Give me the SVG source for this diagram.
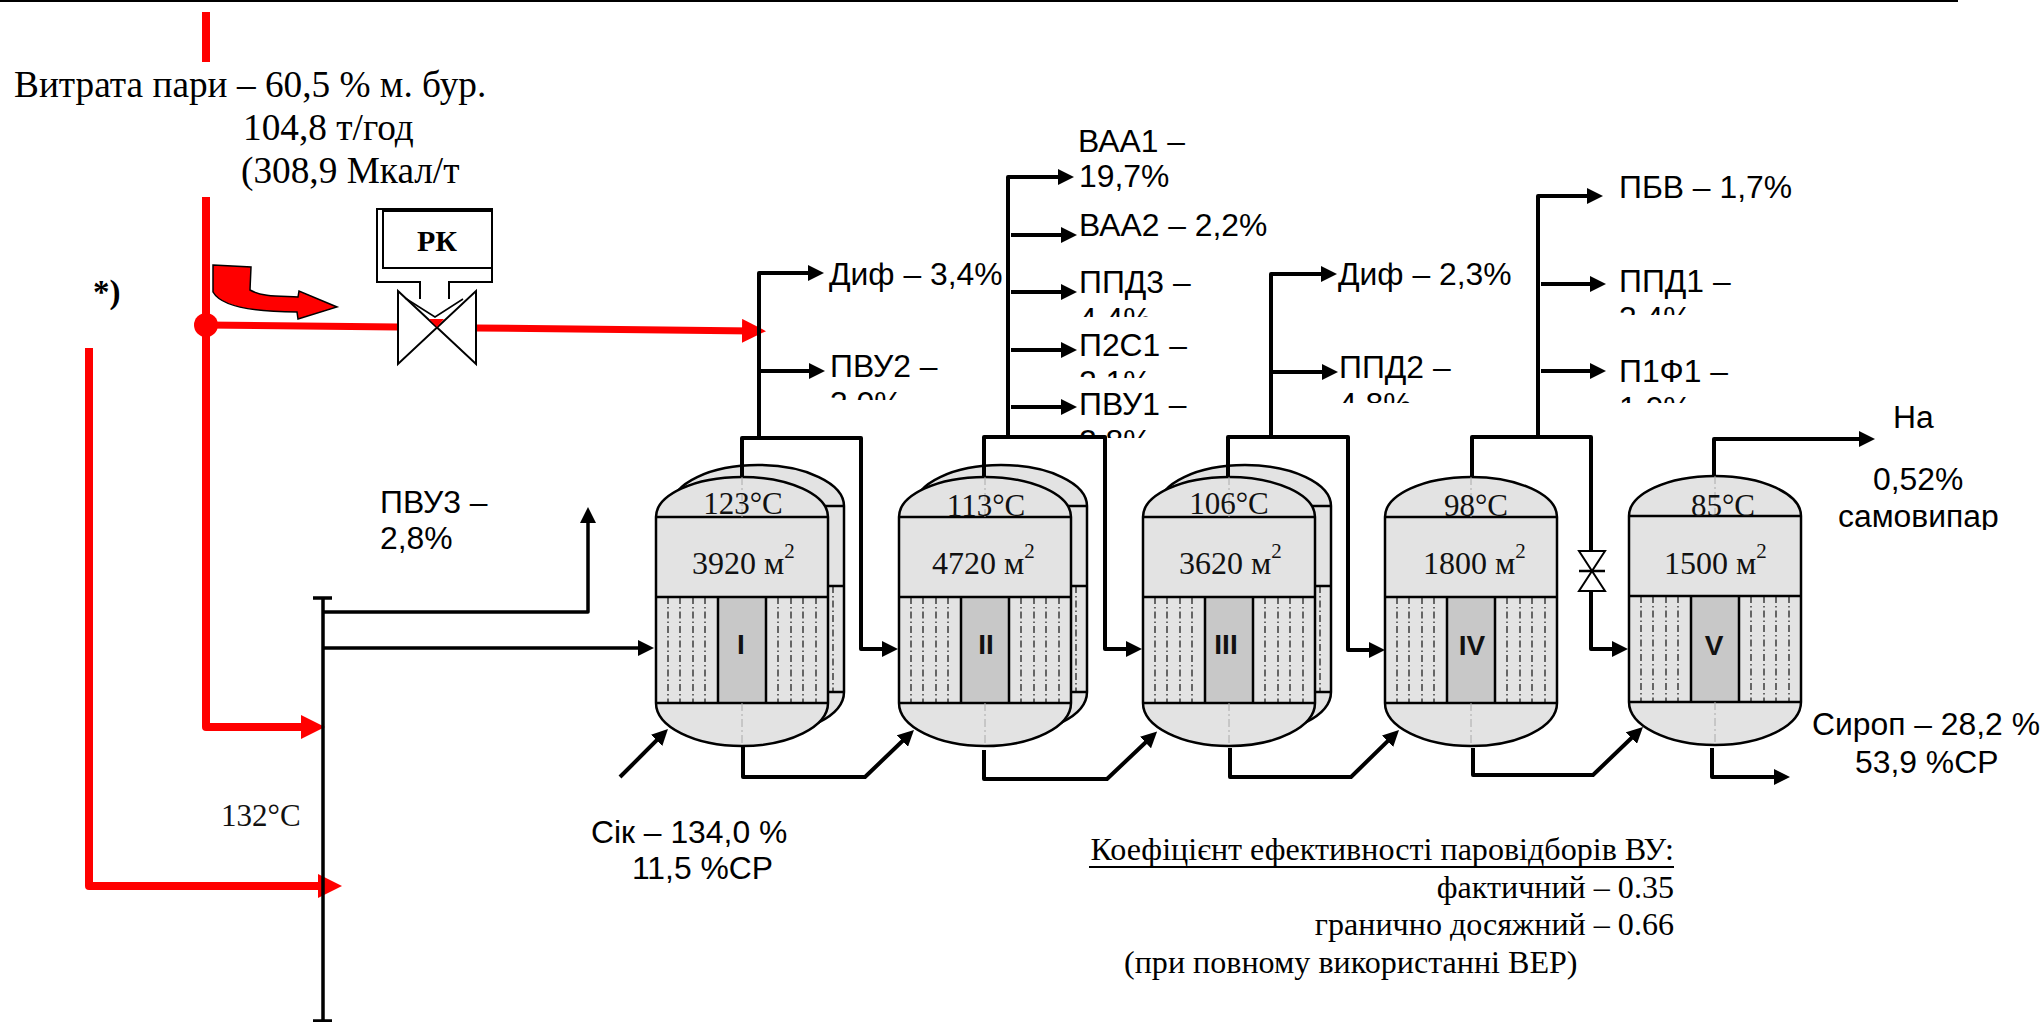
<svg xmlns="http://www.w3.org/2000/svg" xmlns:xlink="http://www.w3.org/1999/xlink" width="2044" height="1022" viewBox="0 0 2044 1022">
<style>
.a{font-family:"Liberation Sans",Arial,sans-serif;font-size:31.85px;fill:#000}
.t{font-family:"Liberation Serif","Times New Roman",serif;font-size:37.3px;fill:#000}
.s{font-family:"Liberation Serif","Times New Roman",serif;font-size:32.1px;fill:#000}
.v{font-family:"Liberation Serif","Times New Roman",serif;font-size:31px;fill:#111;text-anchor:middle}
.m{font-family:"Liberation Serif","Times New Roman",serif;font-size:32px;fill:#111}
.m2{font-size:21px}
.r{font-family:"Liberation Sans",Arial,sans-serif;font-size:28px;font-weight:700;fill:#111;text-anchor:middle}
.k{fill:none;stroke:#000;stroke-width:4;stroke-linejoin:round}
.ka{marker-end:url(#ah)}
.red{fill:none;stroke:#f00;stroke-width:8;stroke-linejoin:round}
.reda{marker-end:url(#rh)}
.shell{fill:#e3e3e3;stroke:#000;stroke-width:2.5}
.ln{stroke:#000;stroke-width:2.5;fill:none}
.tube{stroke:#000;stroke-width:1.1;stroke-dasharray:7 3 1.5 3;fill:none}
.cl{stroke:#aaa;stroke-width:1;stroke-dasharray:8 3 2 3;fill:none}
</style>
<defs>
<marker id="ah" markerUnits="userSpaceOnUse" markerWidth="16" markerHeight="16" viewBox="0 0 16 16" refX="8" refY="8" orient="auto"><path d="M0,0L16,8L0,16Z" fill="#000"/></marker>
<marker id="rh" markerUnits="userSpaceOnUse" markerWidth="24" markerHeight="24" viewBox="0 0 24 24" refX="12" refY="12" orient="auto"><path d="M0,0L24,12L0,24Z" fill="#f00"/></marker>
<g id="back">
<path class="shell" d="M16,506A86,41 0 0 1 188,506V692A86,43 0 0 1 16,692Z"/>
<path class="ln" d="M16,506H188M16,586H188M16,692H188"/>
<path class="tube" d="M177,586V692"/>
</g>
<g id="shell">
<path class="shell" d="M0,517A86,40 0 0 1 172,517V703A86,43 0 0 1 0,703Z"/>
<rect x="62" y="597" width="48" height="106" fill="#c8c8c8"/>
<path class="ln" d="M0,517H172M0,597H172M0,703H172M62,597V703M110,597V703"/>
<path class="tube" d="M12,597V703M24,597V703M37,597V703M49,597V703M122,597V703M135,597V703M147,597V703M160,597V703"/>
<path class="cl" d="M86,477V517M86,703V746"/>
</g>
<clipPath id="c1"><rect x="820" y="340" width="150" height="60"/></clipPath>
<clipPath id="c2"><rect x="1070" y="260" width="200" height="57"/></clipPath>
<clipPath id="c3"><rect x="1070" y="325" width="200" height="53"/></clipPath>
<clipPath id="c4"><rect x="1070" y="385" width="200" height="53"/></clipPath>
<clipPath id="c5"><rect x="1330" y="350" width="180" height="53"/></clipPath>
<clipPath id="c6"><rect x="1610" y="260" width="200" height="55"/></clipPath>
<clipPath id="c7"><rect x="1610" y="350" width="200" height="53"/></clipPath>
<clipPath id="c8"><rect x="1830" y="495" width="190" height="35"/></clipPath>
</defs>
<rect width="2044" height="1022" fill="#fff"/>
<rect id="top-rule" x="0" y="0" width="1958" height="2" fill="#000"/>

<g id="vessel-I" transform="translate(656,0)"><use href="#back"/><use href="#shell"/>
<text class="v" x="87" y="514">123°C</text><text class="m" x="36" y="574">3920 м<tspan class="m2" dy="-16">2</tspan></text><text class="r" x="85" y="654">I</text></g>
<g id="vessel-II" transform="translate(899,0)"><use href="#back"/><use href="#shell"/>
<text class="v" x="87" y="516">113°C</text><text class="m" x="33" y="574">4720 м<tspan class="m2" dy="-16">2</tspan></text><text class="r" x="87" y="654">II</text></g>
<g id="vessel-III" transform="translate(1143,0)"><use href="#back"/><use href="#shell"/>
<text class="v" x="86" y="514">106°C</text><text class="m" x="36" y="574">3620 м<tspan class="m2" dy="-16">2</tspan></text><text class="r" x="83" y="654">III</text></g>
<g id="vessel-IV" transform="translate(1385,0)"><use href="#shell"/>
<text class="v" x="91" y="516">98°C</text><text class="m" x="38" y="574">1800 м<tspan class="m2" dy="-16">2</tspan></text><text class="r" x="87" y="655">IV</text></g>
<g id="vessel-V" transform="translate(1629,-1)"><use href="#shell"/>
<text class="v" x="94" y="517">85°C</text><text class="m" x="35" y="575">1500 м<tspan class="m2" dy="-16">2</tspan></text><text class="r" x="85" y="656">V</text></g>

<g id="connectors">
<path class="red" d="M206,12V62"/>
<path class="red reda" d="M206,197V727H313"/>
<path class="red reda" d="M89,348V886H330"/>
<path class="red" style="stroke-width:7" d="M206,325L398,327"/>
<path class="red reda" style="stroke-width:7" d="M476,328L754,331"/>
<path class="k" style="stroke-width:3.5" d="M323,598V1021M313,598H332M313,1021H332"/>
<path class="k ka" style="stroke-width:3.5" d="M323,612H588V515"/>
<path class="k ka" style="stroke-width:3.5" d="M323,648H646"/>
<path class="k ka" d="M742,476V438H861V649H890"/>
<path class="k ka" d="M759,438V273H816"/>
<path class="k ka" d="M759,371H817"/>
<path class="k ka" d="M984,476V437H1105V649H1134"/>
<path class="k ka" d="M1008,437V177H1066"/>
<path class="k ka" d="M1011,235H1069"/>
<path class="k ka" d="M1011,292H1069"/>
<path class="k ka" d="M1011,350H1069"/>
<path class="k ka" d="M1011,407H1069"/>
<path class="k ka" d="M1228,476V437H1348V650H1377"/>
<path class="k ka" d="M1271,437V274H1329"/>
<path class="k ka" d="M1271,372H1330"/>
<path class="k" d="M1472,476V437H1591V551"/>
<path class="k ka" d="M1591,591V649H1620"/>
<path class="k ka" d="M1538,437V196H1595"/>
<path class="k ka" d="M1541,284H1598"/>
<path class="k ka" d="M1541,371H1598"/>
<path class="k ka" d="M1714,475V439H1867"/>
<path class="k ka" d="M620,777L662.3,734.7"/>
<path class="k ka" d="M743,746V777H865L908.2,735.5"/>
<path class="k ka" d="M984,750V779H1107L1151.3,737"/>
<path class="k ka" d="M1230,748V777H1351L1393.3,735.6"/>
<path class="k ka" d="M1473,748V775H1593L1637.2,732.5"/>
<path class="k ka" d="M1712,748V777H1782"/>
</g>

<g id="valve-small" fill="#fff" stroke="#000" stroke-width="2">
<path d="M1579,551H1605L1579,591H1605Z"/>
<path d="M1579,571H1605" stroke-width="2.5"/>
</g>

<g id="valve-rk">
<path d="M377,209H492V282H449V298H420V282H377Z" fill="#fff" stroke="none"/>
<path d="M420,298V282H377V209H492V282H449V298" fill="none" stroke="#000" stroke-width="2"/>
<rect x="383" y="211" width="109" height="57" fill="#fff" stroke="#000" stroke-width="2"/>
<path d="M398,291L476,364V291L398,364Z" fill="#fff" stroke="#000" stroke-width="2"/>
<path d="M420,282V299M449,282V299" stroke="#000" stroke-width="2"/>
<path d="M405,298L435,317L463,299" fill="none" stroke="#000" stroke-width="1.5"/>
<path d="M429,319L444,319L437,327Z" fill="#f00"/>
<text x="437" y="251" text-anchor="middle" style="font-family:'Liberation Serif',serif;font-size:30px;font-weight:700">РК</text>
</g>

<g id="flow-arrow"><path d="M213,265L251,267L250,290C262,297 280,296 298,297L299,291L337,307L298,319L297,312C262,312 222,308 213,292Z" fill="#f00" stroke="#000" stroke-width="1.5"/></g>
<circle id="junction" cx="206" cy="325" r="12" fill="#f00"/>

<g id="labels">
<text class="t" x="14" y="97">Витрата пари – 60,5 % м. бур.</text>
<text class="t" x="243" y="140">104,8 т/год</text>
<text class="t" x="241" y="183">(308,9 Мкал/т</text>
<text x="93" y="303" style="font-family:'Liberation Serif',serif;font-size:33px;font-weight:700">*)</text>
<text class="v" style="text-anchor:start" x="221" y="826">132°C</text>
<text class="a" x="380" y="513">ПВУ3 –</text><text class="a" x="380" y="549">2,8%</text>
<text class="a" x="829" y="285">Диф – 3,4%</text>
<g clip-path="url(#c1)"><text class="a" x="830" y="377">ПВУ2 –</text><text class="a" x="830" y="414">3,0%</text></g>
<text class="a" x="1078" y="152">ВАА1 –</text><text class="a" x="1079" y="187">19,7%</text>
<text class="a" x="1079" y="236">ВАА2 – 2,2%</text>
<g clip-path="url(#c2)"><text class="a" x="1079" y="293">ППД3 –</text><text class="a" x="1079" y="330">4,4%</text></g>
<g clip-path="url(#c3)"><text class="a" x="1079" y="356">П2С1 –</text><text class="a" x="1079" y="393">2,1%</text></g>
<g clip-path="url(#c4)"><text class="a" x="1079" y="415">ПВУ1 –</text><text class="a" x="1079" y="452">2,8%</text></g>
<text class="a" x="1338" y="285">Диф – 2,3%</text>
<g clip-path="url(#c5)"><text class="a" x="1339" y="378">ППД2 –</text><text class="a" x="1339" y="415">4,8%</text></g>
<text class="a" x="1619" y="198">ПБВ – 1,7%</text>
<g clip-path="url(#c6)"><text class="a" x="1619" y="292">ППД1 –</text><text class="a" x="1619" y="329">3,4%</text></g>
<g clip-path="url(#c7)"><text class="a" x="1619" y="382">П1Ф1 –</text><text class="a" x="1619" y="419">1,0%</text></g>
<text class="a" x="1893" y="428">На</text>
<text class="a" x="1873" y="490">0,52%</text>
<g clip-path="url(#c8)"><text class="a" x="1838" y="527">самовипар</text></g>
<text class="a" x="1812" y="735">Сироп – 28,2 %</text><text class="a" x="1855" y="773">53,9 %СР</text>
<text class="a" x="591" y="843">Сік – 134,0 %</text><text class="a" x="632" y="879">11,5 %СР</text>
<text class="s" x="1674" y="860" text-anchor="end">Коефіцієнт ефективності паровідборів ВУ:</text>
<rect x="1089" y="866" width="585" height="2" fill="#000"/>
<text class="s" x="1674" y="898" text-anchor="end">фактичний – 0.35</text>
<text class="s" x="1674" y="935" text-anchor="end">гранично досяжний – 0.66</text>
<text class="s" x="1124" y="973">(при повному використанні ВЕР)</text>
</g>
</svg>
